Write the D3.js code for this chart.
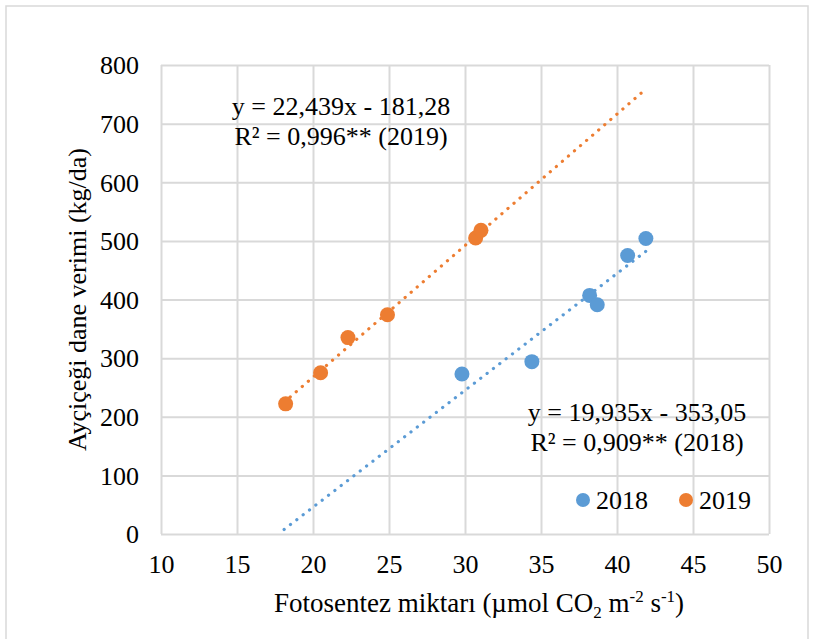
<!DOCTYPE html>
<html lang="en">
<head>
    <meta charset="UTF-8">
    <title>Fotosentez - verim</title>
    <script src="https://d3js.org/d3.v7.min.js"></script>
    <style>
        body { margin: 0; background: #fff; }
    </style>
</head>
<body>
<script>

    // values
    let x2018 = [29.8, 34.4, 38.2, 38.7, 40.7, 41.9];
    let y2018 = [273, 294, 407, 391, 475, 504];
    let x2019 = [18.2, 20.5, 22.3, 24.9, 30.7, 31.05];
    let y2019 = [222, 275, 335, 374, 505, 518];

    // trend lines (slope, intercept) and the x range they cover
    let trend2018 = [19.935, -353.05];
    let trend2019 = [22.439, -181.28];
    let trendRange = [18.1, 41.9];

    let xTicks = [10, 15, 20, 25, 30, 35, 40, 45, 50];
    let yTicks = [0, 100, 200, 300, 400, 500, 600, 700, 800];
    let seriesNames = ["2018", "2019"];
    let eq2018 = ["y = 19,935x - 353,05", "R² = 0,909** (2018)"];
    let eq2019 = ["y = 22,439x - 181,28", "R² = 0,996** (2019)"];

    let chart_width = 814, chart_height = 639;
    let plot_left = 161, plot_right = 769, plot_top = 65, plot_bottom = 534;
    let blue = "#5b9bd5", orange = "#ed7d31";
    let serif = '"Liberation Serif"';

    let svg = d3.select("body").append("svg")
        .attr("width", chart_width)
        .attr("height", chart_height)
        .attr("font-family", "Liberation Serif");

    svg.append("rect")
        .attr("x", 6).attr("y", 6)
        .attr("width", 802).attr("height", 660)
        .attr("fill", "none")
        .attr("stroke", "#d9d9d9")
        .attr("stroke-width", 1.5);

    let x = d3.scaleLinear().domain([10, 50]).range([plot_left, plot_right]);
    let y = d3.scaleLinear().domain([0, 800]).range([plot_bottom, plot_top]);

    // grid + labels via axes
    let xAxis = svg.append("g")
        .attr("transform", "translate(0," + plot_bottom + ")")
        .call(d3.axisBottom(x).tickValues(xTicks).tickSize(-(plot_bottom - plot_top)).tickPadding(21));
    let yAxis = svg.append("g")
        .attr("transform", "translate(" + plot_left + ",0)")
        .call(d3.axisLeft(y).tickValues(yTicks).tickSize(-(plot_right - plot_left)).tickPadding(22));

    [xAxis, yAxis].forEach(function (g) {
        g.attr("font-family", "Liberation Serif").attr("font-size", 26);
        g.select(".domain").remove();
        g.selectAll(".tick line").attr("stroke", "#d9d9d9").attr("stroke-width", 2);
        g.selectAll(".tick text").attr("fill", "#000");
    });
    yAxis.selectAll(".tick text").attr("dy", "0.34em");

    // trend lines
    function trendPoints(c) {
        return trendRange.map(function (v) { return [v, c[0] * v + c[1]]; });
    }
    let line = d3.line().x(function (d) { return x(d[0]); }).y(function (d) { return y(d[1]); });

    [[trend2018, blue], [trend2019, orange]].forEach(function (t) {
        svg.append("path")
            .attr("d", line(trendPoints(t[0])))
            .attr("fill", "none")
            .attr("stroke", t[1])
            .attr("stroke-width", 3.2)
            .attr("stroke-linecap", "round")
            .attr("stroke-dasharray", "0.1 7.9");
    });

    // points
    function drawPoints(xs, ys, color) {
        svg.append("g").selectAll("circle")
            .data(xs.map(function (v, i) { return [v, ys[i]]; }))
            .enter()
            .append("circle")
            .attr("cx", function (d) { return x(d[0]); })
            .attr("cy", function (d) { return y(d[1]); })
            .attr("r", 7.5)
            .attr("fill", color);
    }
    drawPoints(x2018, y2018, blue);
    drawPoints(x2019, y2019, orange);

    // equation labels
    function eqLabel(lines, cx, base) {
        svg.append("g").selectAll("text")
            .data(lines)
            .enter()
            .append("text")
            .attr("x", cx)
            .attr("y", function (d, i) { return base + i * 29.5; })
            .attr("text-anchor", "middle")
            .style("font-size", "26px")
            .text(function (d) { return d; });
    }
    eqLabel(eq2019, 341, 115);
    eqLabel(eq2018, 637, 421);

    // legend
    let legend = svg.append("g");
    [[583, blue, seriesNames[0]], [686, orange, seriesNames[1]]].forEach(function (l) {
        legend.append("circle").attr("cx", l[0]).attr("cy", 500).attr("r", 7).attr("fill", l[1]);
        legend.append("text").attr("x", l[0] + 13).attr("y", 509)
            .style("font-size", "26px").text(l[2]);
    });

    // axis titles
    let xt = svg.append("text")
        .attr("x", 479).attr("y", 612)
        .attr("text-anchor", "middle")
        .style("font-size", "27px");
    xt.append("tspan").text("Fotosentez miktarı (µmol CO");
    xt.append("tspan").attr("dy", 6).style("font-size", "17px").text("2");
    xt.append("tspan").attr("dy", -6).text(" m");
    xt.append("tspan").attr("dy", -10).style("font-size", "17px").text("-2");
    xt.append("tspan").attr("dy", 10).text(" s");
    xt.append("tspan").attr("dy", -10).style("font-size", "17px").text("-1");
    xt.append("tspan").attr("dy", 10).text(")");

    svg.append("text")
        .attr("transform", "translate(86," + ((plot_top + plot_bottom) / 2) + ") rotate(-90)")
        .attr("text-anchor", "middle")
        .style("font-size", "26px")
        .text("Ayçiçeği dane verimi (kg/da)");

    // one font for every label
    svg.selectAll("text").style("font-family", serif).style("fill", "#000");

</script>
</body>
</html>
